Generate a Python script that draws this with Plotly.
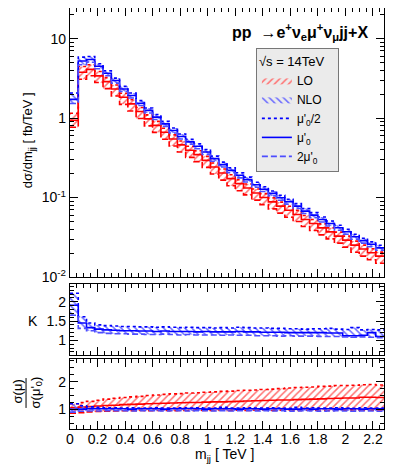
import numpy as np
import plotly.graph_objects as go

# 38 bins of 0.06 TeV
bin_edges = np.round(np.arange(39) * 0.06, 2)

# dsigma/dm_jj [fb/TeV]
nlo_half = [2.07, 5.86, 5.96, 4.83, 3.94, 3.19, 2.51, 2.07, 1.66, 1.34,
            1.11, 0.91, 0.75, 0.63, 0.54, 0.475, 0.403, 0.332, 0.279, 0.237,
            0.205, 0.181, 0.156, 0.137, 0.121, 0.107, 0.095, 0.084, 0.0726, 0.0647,
            0.0569, 0.0507, 0.0448, 0.0399, 0.0345, 0.0308, 0.0277, 0.0251]
nlo_mu0 = [1.72, 5.23, 5.47, 4.49, 3.67, 2.97, 2.33, 1.93, 1.54, 1.25,
           1.03, 0.847, 0.698, 0.586, 0.502, 0.442, 0.375, 0.309, 0.260, 0.220,
           0.191, 0.168, 0.145, 0.127, 0.113, 0.0995, 0.0884, 0.0781, 0.0675, 0.0602,
           0.0529, 0.0472, 0.0417, 0.0371, 0.0321, 0.0287, 0.0258, 0.0233]
nlo_two = [1.53, 4.69, 5.05, 4.18, 3.41, 2.76, 2.17, 1.79, 1.44, 1.16,
           0.961, 0.788, 0.649, 0.545, 0.468, 0.411, 0.349, 0.287, 0.242, 0.205,
           0.177, 0.157, 0.135, 0.119, 0.105, 0.0926, 0.0823, 0.0727, 0.0629, 0.0560,
           0.0493, 0.0439, 0.0388, 0.0345, 0.0299, 0.0267, 0.0240, 0.0217]
lo_half = [1.15, 4.47, 4.69, 3.86, 3.23, 2.61, 2.06, 1.70, 1.36, 1.10,
           0.910, 0.746, 0.615, 0.516, 0.443, 0.389, 0.330, 0.272, 0.229, 0.194,
           0.168, 0.148, 0.128, 0.112, 0.0992, 0.0877, 0.0779, 0.0689, 0.0595, 0.0530,
           0.0466, 0.0416, 0.0367, 0.0327, 0.0283, 0.0252, 0.0227, 0.0206]
lo_mu0 = [0.94, 3.78, 4.11, 3.40, 2.88, 2.33, 1.83, 1.51, 1.21, 0.978,
          0.810, 0.664, 0.547, 0.460, 0.394, 0.347, 0.294, 0.242, 0.204, 0.173,
          0.150, 0.132, 0.114, 0.100, 0.0883, 0.0781, 0.0693, 0.0613, 0.0530, 0.0472,
          0.0415, 0.0370, 0.0327, 0.0291, 0.0252, 0.0225, 0.0202, 0.0183]
lo_two = [0.767, 3.08, 3.41, 2.81, 2.35, 1.90, 1.49, 1.23, 0.988, 0.798,
          0.661, 0.542, 0.446, 0.375, 0.321, 0.283, 0.240, 0.198, 0.166, 0.141,
          0.122, 0.108, 0.0929, 0.0815, 0.0720, 0.0637, 0.0565, 0.0500, 0.0432, 0.0385,
          0.0339, 0.0302, 0.0267, 0.0238, 0.0205, 0.0183, 0.0165, 0.0149]

# K factor
k_half = [2.22, 1.61, 1.45, 1.40, 1.38, 1.37, 1.36, 1.36, 1.35, 1.35,
          1.34, 1.35, 1.34, 1.33, 1.34, 1.33, 1.33, 1.32, 1.33, 1.32,
          1.34, 1.33, 1.32, 1.32, 1.31, 1.31, 1.30, 1.30, 1.29, 1.30,
          1.30, 1.31, 1.29, 1.28, 1.33, 1.27, 1.28, 1.27]
k_mu0 = [1.91, 1.45, 1.33, 1.29, 1.27, 1.26, 1.25, 1.25, 1.24, 1.24,
         1.23, 1.24, 1.23, 1.23, 1.23, 1.22, 1.23, 1.22, 1.22, 1.22,
         1.23, 1.22, 1.22, 1.21, 1.21, 1.21, 1.20, 1.20, 1.20, 1.20,
         1.20, 1.19, 1.19, 1.12, 1.12, 1.13, 1.20, 1.10]
k_two = [1.65, 1.31, 1.25, 1.20, 1.18, 1.17, 1.17, 1.16, 1.16, 1.15,
         1.15, 1.16, 1.15, 1.14, 1.15, 1.14, 1.14, 1.14, 1.13, 1.14,
         1.13, 1.13, 1.12, 1.12, 1.12, 1.11, 1.12, 1.11, 1.11, 1.11,
         1.10, 1.10, 1.10, 1.09, 1.08, 1.09, 1.08, 1.07]

# sigma(mu)/sigma(mu'_0)
r_lo_half = [1.20, 1.25, 1.29, 1.33, 1.37, 1.40, 1.43, 1.45, 1.47, 1.50,
             1.52, 1.54, 1.56, 1.57, 1.59, 1.60, 1.62, 1.63, 1.65, 1.66,
             1.68, 1.69, 1.70, 1.72, 1.73, 1.75, 1.77, 1.79, 1.80, 1.81,
             1.83, 1.84, 1.86, 1.86, 1.87, 1.89, 1.90, 1.88]
r_lo_mu0 = [1.06, 1.08, 1.10, 1.12, 1.14, 1.15, 1.17, 1.18, 1.19, 1.20,
            1.21, 1.22, 1.23, 1.24, 1.25, 1.25, 1.26, 1.27, 1.27, 1.28,
            1.29, 1.30, 1.31, 1.32, 1.33, 1.34, 1.34, 1.35, 1.36, 1.37,
            1.38, 1.39, 1.40, 1.41, 1.41, 1.44, 1.44, 1.43]
r_lo_two = [0.86, 0.88, 0.91, 0.92, 0.93, 0.94, 0.95, 0.95, 0.96, 0.95,
            0.96, 0.96, 0.95, 0.96, 0.96, 0.97, 0.96, 0.96, 0.97, 0.96,
            0.97, 0.96, 0.97, 0.97, 0.96, 0.97, 0.97, 0.96, 0.97, 0.97,
            0.97, 0.96, 0.97, 0.97, 0.98, 0.97, 0.97, 0.98]
r_nlo_half = [1.20, 1.13, 1.09, 1.07, 1.06, 1.06, 1.05, 1.06, 1.05, 1.05,
              1.06, 1.05, 1.05, 1.06, 1.05, 1.06, 1.05, 1.05, 1.07, 1.05,
              1.05, 1.06, 1.05, 1.05, 1.06, 1.05, 1.04, 1.07, 1.05, 1.06,
              1.05, 1.05, 1.06, 1.05, 1.04, 1.06, 1.05, 1.05]
r_nlo_mu0 = [1.00, 1.01, 1.02, 1.02, 1.02, 1.02, 1.02, 1.01, 1.02, 1.02,
             1.02, 1.01, 1.02, 1.02, 1.03, 1.02, 1.01, 1.02, 1.02, 1.02,
             1.01, 1.02, 1.02, 1.01, 1.02, 1.02, 1.01, 1.01, 1.02, 1.01,
             1.02, 1.02, 1.01, 1.02, 1.02, 1.01, 1.02, 1.02]
r_nlo_two = [0.90, 0.93, 0.94, 0.94, 0.95, 0.95, 0.95, 0.94, 0.95, 0.95,
             0.95, 0.94, 0.95, 0.95, 0.94, 0.95, 0.95, 0.94, 0.95, 0.94,
             0.95, 0.95, 0.94, 0.95, 0.94, 0.95, 0.93, 0.94, 0.95, 0.94,
             0.93, 0.94, 0.95, 0.94, 0.93, 0.94, 0.94, 0.93]

FONT = "Liberation Sans, Arial, sans-serif"
RED, BLUE, BLUE_DASH = "#ff0000", "#0000ff", "#4d4dff"
RED_HATCH, BLUE_HATCH = "#ff7070", "#6b6bff"


def steps(v):
    return list(v) + [v[-1]]


fig = go.Figure()


def add_band(lo, hi, xa, ya, hatch, shape, name=None, rank=None):
    fig.add_trace(go.Scatter(x=bin_edges, y=steps(lo), xaxis=xa, yaxis=ya,
                             mode="lines", line=dict(width=0, shape="hv"),
                             showlegend=False, hoverinfo="skip"))
    fig.add_trace(go.Scatter(x=bin_edges, y=steps(hi), xaxis=xa, yaxis=ya,
                             mode="lines", line=dict(width=0, shape="hv"),
                             fill="tonexty", fillcolor="rgba(0,0,0,0)",
                             fillpattern=dict(shape=shape, fgcolor=hatch, bgcolor="rgba(0,0,0,0)",
                                              size=5, solidity=0.3),
                             name=name, showlegend=name is not None,
                             legendrank=rank if rank else 1000, hoverinfo="skip"))


def add_line(v, xa, ya, color, dash, name=None, rank=None, width=1.6):
    fig.add_trace(go.Scatter(x=bin_edges, y=steps(v), xaxis=xa, yaxis=ya,
                             mode="lines", line=dict(color=color, width=width, dash=dash, shape="hv"),
                             name=name, showlegend=name is not None,
                             legendrank=rank if rank else 1000, hoverinfo="skip"))


# top panel
add_band(lo_two, lo_half, "x", "y", RED_HATCH, "/", "LO", 1)
add_line(lo_half, "x", "y", RED, "dot")
add_line(lo_mu0, "x", "y", RED, "solid")
add_line(lo_two, "x", "y", RED, "6px,3px")
add_band(nlo_two, nlo_half, "x", "y", BLUE_HATCH, "\\", "NLO", 2)
add_line(nlo_half, "x", "y", BLUE, "dot", "μ'<sub>0</sub>/2", 3)
add_line(nlo_mu0, "x", "y", BLUE, "solid", "μ'<sub>0</sub>", 4)
add_line(nlo_two, "x", "y", BLUE_DASH, "6px,3px", "2μ'<sub>0</sub>", 5)

# K panel
add_band(k_two, k_half, "x2", "y2", BLUE_HATCH, "\\")
add_line(k_half, "x2", "y2", BLUE, "dot")
add_line(k_mu0, "x2", "y2", BLUE, "solid")
add_line(k_two, "x2", "y2", BLUE_DASH, "6px,3px")

# ratio panel
add_band(r_lo_two, r_lo_half, "x3", "y3", RED_HATCH, "/")
add_line(r_lo_half, "x3", "y3", RED, "dot")
add_line(r_lo_mu0, "x3", "y3", RED, "solid")
add_line(r_lo_two, "x3", "y3", RED, "6px,3px")
add_band(r_nlo_two, r_nlo_half, "x3", "y3", BLUE_HATCH, "\\")
add_line(r_nlo_half, "x3", "y3", BLUE, "dot")
add_line(r_nlo_mu0, "x3", "y3", BLUE, "solid")
add_line(r_nlo_two, "x3", "y3", BLUE_DASH, "6px,3px")

axis_style = dict(showline=True, linecolor="black", linewidth=1.3, mirror="allticks",
                  ticks="inside", ticklen=8, tickwidth=1, tickcolor="black",
                  showgrid=False, zeroline=False, automargin=False,
                  tickfont=dict(family=FONT, size=14, color="black"))
xstyle = dict(axis_style, range=[0, 2.28], tick0=0, dtick=0.2, ticklabelstandoff=-3,
              minor=dict(ticks="inside", ticklen=4, tick0=0, dtick=0.05, tickcolor="black"))
ystyle = dict(axis_style)

minor_log = [m * 10.0 ** e for e in range(-2, 2) for m in range(2, 10)]

# the page body adds an 8px offset, so the figure is 8px smaller on each axis
fig.update_layout(
    template="none",
    width=387, height=456,
    margin=dict(l=62, r=11, t=0, b=35, autoexpand=False),
    paper_bgcolor="white", plot_bgcolor="white",
    font=dict(family=FONT, size=14, color="black"),
    xaxis=dict(xstyle, anchor="y", showticklabels=False),
    xaxis2=dict(xstyle, anchor="y2", matches="x", showticklabels=False),
    xaxis3=dict(xstyle, anchor="y3", matches="x"),
    yaxis=dict(ystyle, type="log", domain=[0.361, 1], range=[-2, 1.386],
               tickvals=[0.01, 0.1, 1, 10],
               ticktext=["10<sup>-2</sup>", "10<sup>-1</sup>", "1", "10"],
               minor=dict(ticks="inside", ticklen=4, tickvals=minor_log, tickcolor="black")),
    yaxis2=dict(ystyle, domain=[0.1758, 0.3444], range=[0.62, 2.46],
                tickvals=[1, 1.5, 2], ticktext=["1", "1.5", "2"],
                minor=dict(ticks="inside", ticklen=4, tick0=0, dtick=0.1, tickcolor="black")),
    yaxis3=dict(ystyle, domain=[0, 0.1663], range=[0.29, 2.82],
                tickvals=[1, 2], ticktext=["1", "2"],
                minor=dict(ticks="inside", ticklen=4, tick0=0, dtick=0.25, tickcolor="black")),
    legend=dict(x=0.592, y=0.905, xanchor="left", yanchor="top", traceorder="normal",
                bgcolor="#ebebeb", bordercolor="#777777", borderwidth=1,
                font=dict(family=FONT, size=12), itemwidth=30, tracegroupgap=0,
                title=dict(text="√s = 14TeV&nbsp;&nbsp;&nbsp;", font=dict(family=FONT, size=13))),
)

annotations = [
    dict(text="<b>pp</b>  →<b>e<sup>+</sup>ν<sub>e</sub>μ<sup>+</sup>ν<sub>μ</sub>jj+X</b>",
         x=0.955, y=0.943, xanchor="right", yanchor="middle", font=dict(size=16)),
    dict(text="dσ/dm<sub>jj</sub> [ fb/TeV ]", x=-0.13, y=0.6865, textangle=-90,
         xanchor="center", yanchor="middle", font=dict(size=13)),
    dict(text="K", x=-0.118, y=0.2565, xanchor="center", yanchor="middle", font=dict(size=14)),
    dict(text="σ(μ)", x=-0.166, y=0.089, textangle=-90, xanchor="center", yanchor="middle",
         font=dict(size=13)),
    dict(text="σ(μ'<sub>0</sub>)", x=-0.108, y=0.087, textangle=-90, xanchor="center",
         yanchor="middle", font=dict(size=13)),
    dict(text="m<sub>jj</sub> [ TeV ]", x=0.592, y=-0.061, xanchor="right", yanchor="middle",
         font=dict(size=14)),
]
for a in annotations:
    fig.add_annotation(dict(a, xref="paper", yref="paper", showarrow=False))

fig.add_shape(type="line", xref="paper", yref="paper", x0=-0.14, x1=-0.14, y0=0.05, y1=0.121,
              line=dict(color="black", width=1))

fig.write_html("out.html")
